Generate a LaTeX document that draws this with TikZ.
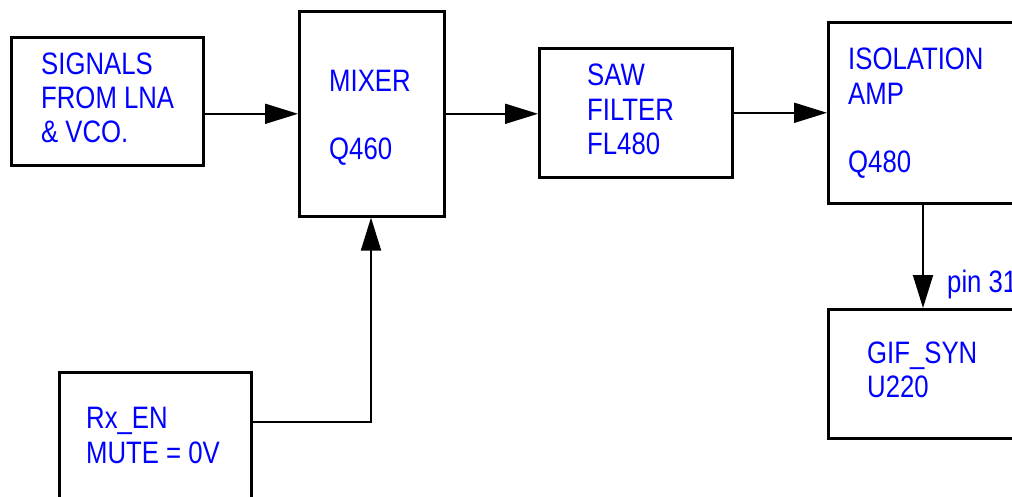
\documentclass[tikz,border=0pt]{standalone}
\usepackage{fontspec}
\setmainfont{Liberation Sans}[FakeStretch=0.83]
\usetikzlibrary{arrows.meta}
\tikzset{
  blk/.style={draw=black, line width=2.6pt, minimum width=#1, anchor=north west, inner sep=0pt},
  txt/.style={anchor=base west, inner sep=0pt, text=blue, font=\fontsize{31}{34}\selectfont},
  arr/.style={line width=1.9pt, -{Triangle[length=33pt,width=20pt]}},
  ln/.style={line width=1.9pt}
}
\begin{document}
\begin{tikzpicture}[x=1pt,y=-1pt]
\useasboundingbox (0,0) rectangle (1012,497);
\clip (0,0) rectangle (1012,497);
% boxes
\node[blk=192pt, minimum height=128pt] (sig) at (10,36) {};
\node[blk=145pt, minimum height=205pt] (mix) at (298,10) {};
\node[blk=193pt, minimum height=129pt] (saw) at (538,47) {};
\node[blk=200pt, minimum height=181pt] (iso) at (827,21) {};
\node[blk=200pt, minimum height=129pt] (gif) at (827,308) {};
\node[blk=192pt, minimum height=140pt] (rx) at (58,371) {};
% texts
\node[txt] (sig1) at (41,75) {SIGNALS};
\node[txt] (sig2) at (41,109) {FROM LNA};
\node[txt] (sig3) at (41,143) {\& VCO.};
\node[txt] (mix1) at (329,92) {MIXER};
\node[txt] (mix2) at (329,160) {Q460};
\node[txt] (saw1) at (587,86) {SAW};
\node[txt] (saw2) at (587,121) {FILTER};
\node[txt] (saw3) at (587,155) {FL480};
\node[txt] (iso1) at (848,70) {ISOLATION};
\node[txt] (iso2) at (848,105) {AMP};
\node[txt] (iso3) at (848,173) {Q480};
\node[txt] (gif1) at (867,363) {GIF\_SYN};
\node[txt] (gif2) at (867,397) {U220};
\node[txt] (rx1) at (86,428) {Rx\_EN};
\node[txt] (rx2) at (86,463) {MUTE = 0V};
\node[txt] (pin) at (947,292) {pin 31};
% connectors
\draw[arr] ([yshift=-12.5pt]sig.east) -- (mix.west);
\draw[arr] (mix.east) -- (mix.east -| saw.west);
\draw[arr] (saw.east) -- (saw.east -| iso.west);
\draw[arr] ([xshift=96pt]iso.south west) -- ([xshift=96pt]gif.north west);
\draw[arr] ([yshift=-51pt]rx.north east) -| ([xshift=73pt]mix.south west);
\end{tikzpicture}
\end{document}
